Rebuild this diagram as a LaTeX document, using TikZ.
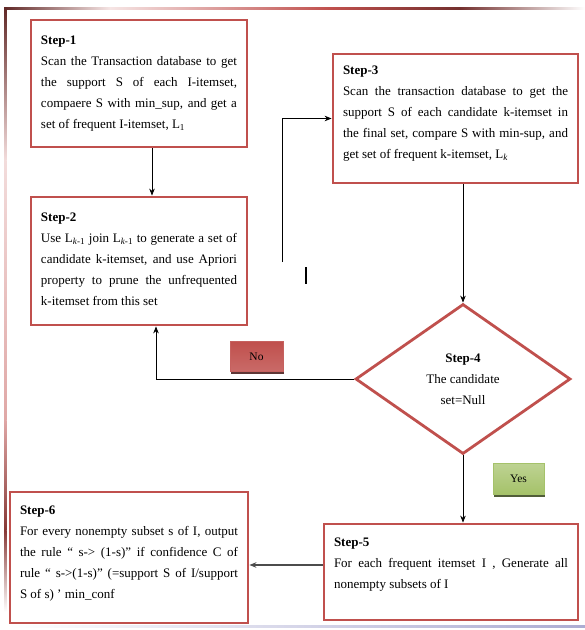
\documentclass[tikz,border=0pt]{standalone}
\usepackage{fontspec}
\setmainfont{Liberation Serif}
\usetikzlibrary{arrows.meta,shapes.geometric,shadows}
\definecolor{boxred}{RGB}{192,80,77}
\definecolor{boxgreen}{RGB}{155,187,89}
\newcommand{\steptext}[4]{\parbox[c][#1][t]{#2}{\vspace*{#3}#4}}

\begin{document}
\begin{tikzpicture}[x=1pt,y=-1pt,>={Stealth[length=7pt,width=5.5pt]},
  stepbox/.style={draw=boxred,line width=2.8pt,fill=white,inner xsep=10pt,inner ysep=0pt,font=\fontsize{13}{21}\selectfont},
  decision/.style={diamond,draw=boxred,line width=2.8pt,fill=white,inner sep=0pt,minimum width=215pt,minimum height=150pt,align=center,font=\fontsize{13}{21}\selectfont},
  answer/.style={minimum width=53pt,minimum height=30pt,inner sep=0pt,line width=0.6pt,font=\fontsize{11.5}{13}\selectfont},
  flow/.style={->,line width=0.8pt}]
\useasboundingbox (0,0) rectangle (585,630);
% frame
\shade[left color=boxred!50!black,right color=boxred!15] (4,7) rectangle (110,9.5);
\shade[left color=boxred!15,right color=boxred] (110,7) rectangle (330,9.5);
\shade[left color=boxred,right color=boxred!60!black] (330,7) rectangle (460,9.5);
\shade[left color=boxred!60!black,right color=white] (460,7) rectangle (585,9.5);
\shade[top color=boxred!50!black,bottom color=boxred!20] (4,7) rectangle (6.5,160);
\shade[top color=boxred!20,bottom color=boxred!50] (4,160) rectangle (6.5,420);
\shade[top color=boxred!50,bottom color=boxred!70!black] (4,420) rectangle (6.5,530);
\shade[top color=boxred!70!black,bottom color=white] (4,530) rectangle (6.5,612);
\shade[left color=white,right color=blue!30!gray!50] (8,625) rectangle (585,627.5);

\node[stepbox] (s1) at (139,83.5) {\steptext{127pt}{196pt}{16pt}{\textbf{Step-1}\\Scan the Transaction database to get\linebreak the support S of each I-itemset,\linebreak compaere S with min\_sup, and get a\linebreak set of frequent I-itemset, L\textsubscript{1}}};
\node[stepbox] (s2) at (139,261) {\steptext{128pt}{196pt}{16pt}{\textbf{Step-2}\\Use L\textsubscript{\textit{k}-1} join L\textsubscript{\textit{k}-1} to generate a set of\linebreak candidate k-itemset, and use Apriori\linebreak property to prune the unfrequented\linebreak k-itemset from this set}};
\node[stepbox] (s3) at (455.5,118.5) {\steptext{129pt}{225pt}{12pt}{\textbf{Step-3}\\Scan the transaction database to get the\linebreak support S of each candidate k-itemset in\linebreak the final set, compare S with min-sup, and\linebreak get set of frequent k-itemset, L\textsubscript{\textit{k}}}};
\node[decision] (d4) at (463,379) {\textbf{Step-4}\\The candidate\\set=Null};
\node[stepbox] (s5) at (451,572) {\steptext{96pt}{234pt}{14pt}{\textbf{Step-5}\\For each frequent itemset I , Generate all\linebreak nonempty subsets of I}};
\node[stepbox] (s6) at (129,557.5) {\steptext{131pt}{218pt}{14pt}{\textbf{Step-6}\\For every nonempty subset s of I, output\linebreak the rule “ s-> (1-s)” if confidence C of\linebreak rule “ s->(1-s)” (=support S of I/support\linebreak S of s) ’ min\_conf}};

\node[answer,draw=boxred!90,top color=boxred,middle color=boxred!60,bottom color=boxred!85,
  drop shadow={fill=boxred!40!black,shadow xshift=0.5pt,shadow yshift=-2.5pt,opacity=0.9}] (no) at (256.5,356.5) {No};
\node[answer,minimum width=51pt,minimum height=31pt,draw=boxgreen!90,top color=boxgreen!65,middle color=boxgreen!45,bottom color=boxgreen!90,
  drop shadow={fill=boxgreen!40!black,shadow xshift=0.5pt,shadow yshift=-2.5pt,opacity=0.9}] (yes) at (518.5,478.5) {Yes};

\draw[flow] ([xshift=13pt]s1.south) -- ([xshift=13pt]s2.north);
\draw[flow] (d4.north |- s3.south) -- (d4.north);
\draw[flow] (d4.west) -| ([xshift=17pt]s2.south);
\draw[flow] (d4.south) -- (d4.south |- s5.north);
\draw[flow,line width=1.5pt,black!70] ([yshift=7pt]s5.west) -- ([yshift=7pt]s5.west -| s6.east);
\coordinate (loopend) at (282,262);
\draw[flow] (loopend) |- (s3.west);
\coordinate (cursor) at (306,267);
\draw[line width=1.2pt] (cursor) -- ++(0,17);
\end{tikzpicture}
\end{document}
